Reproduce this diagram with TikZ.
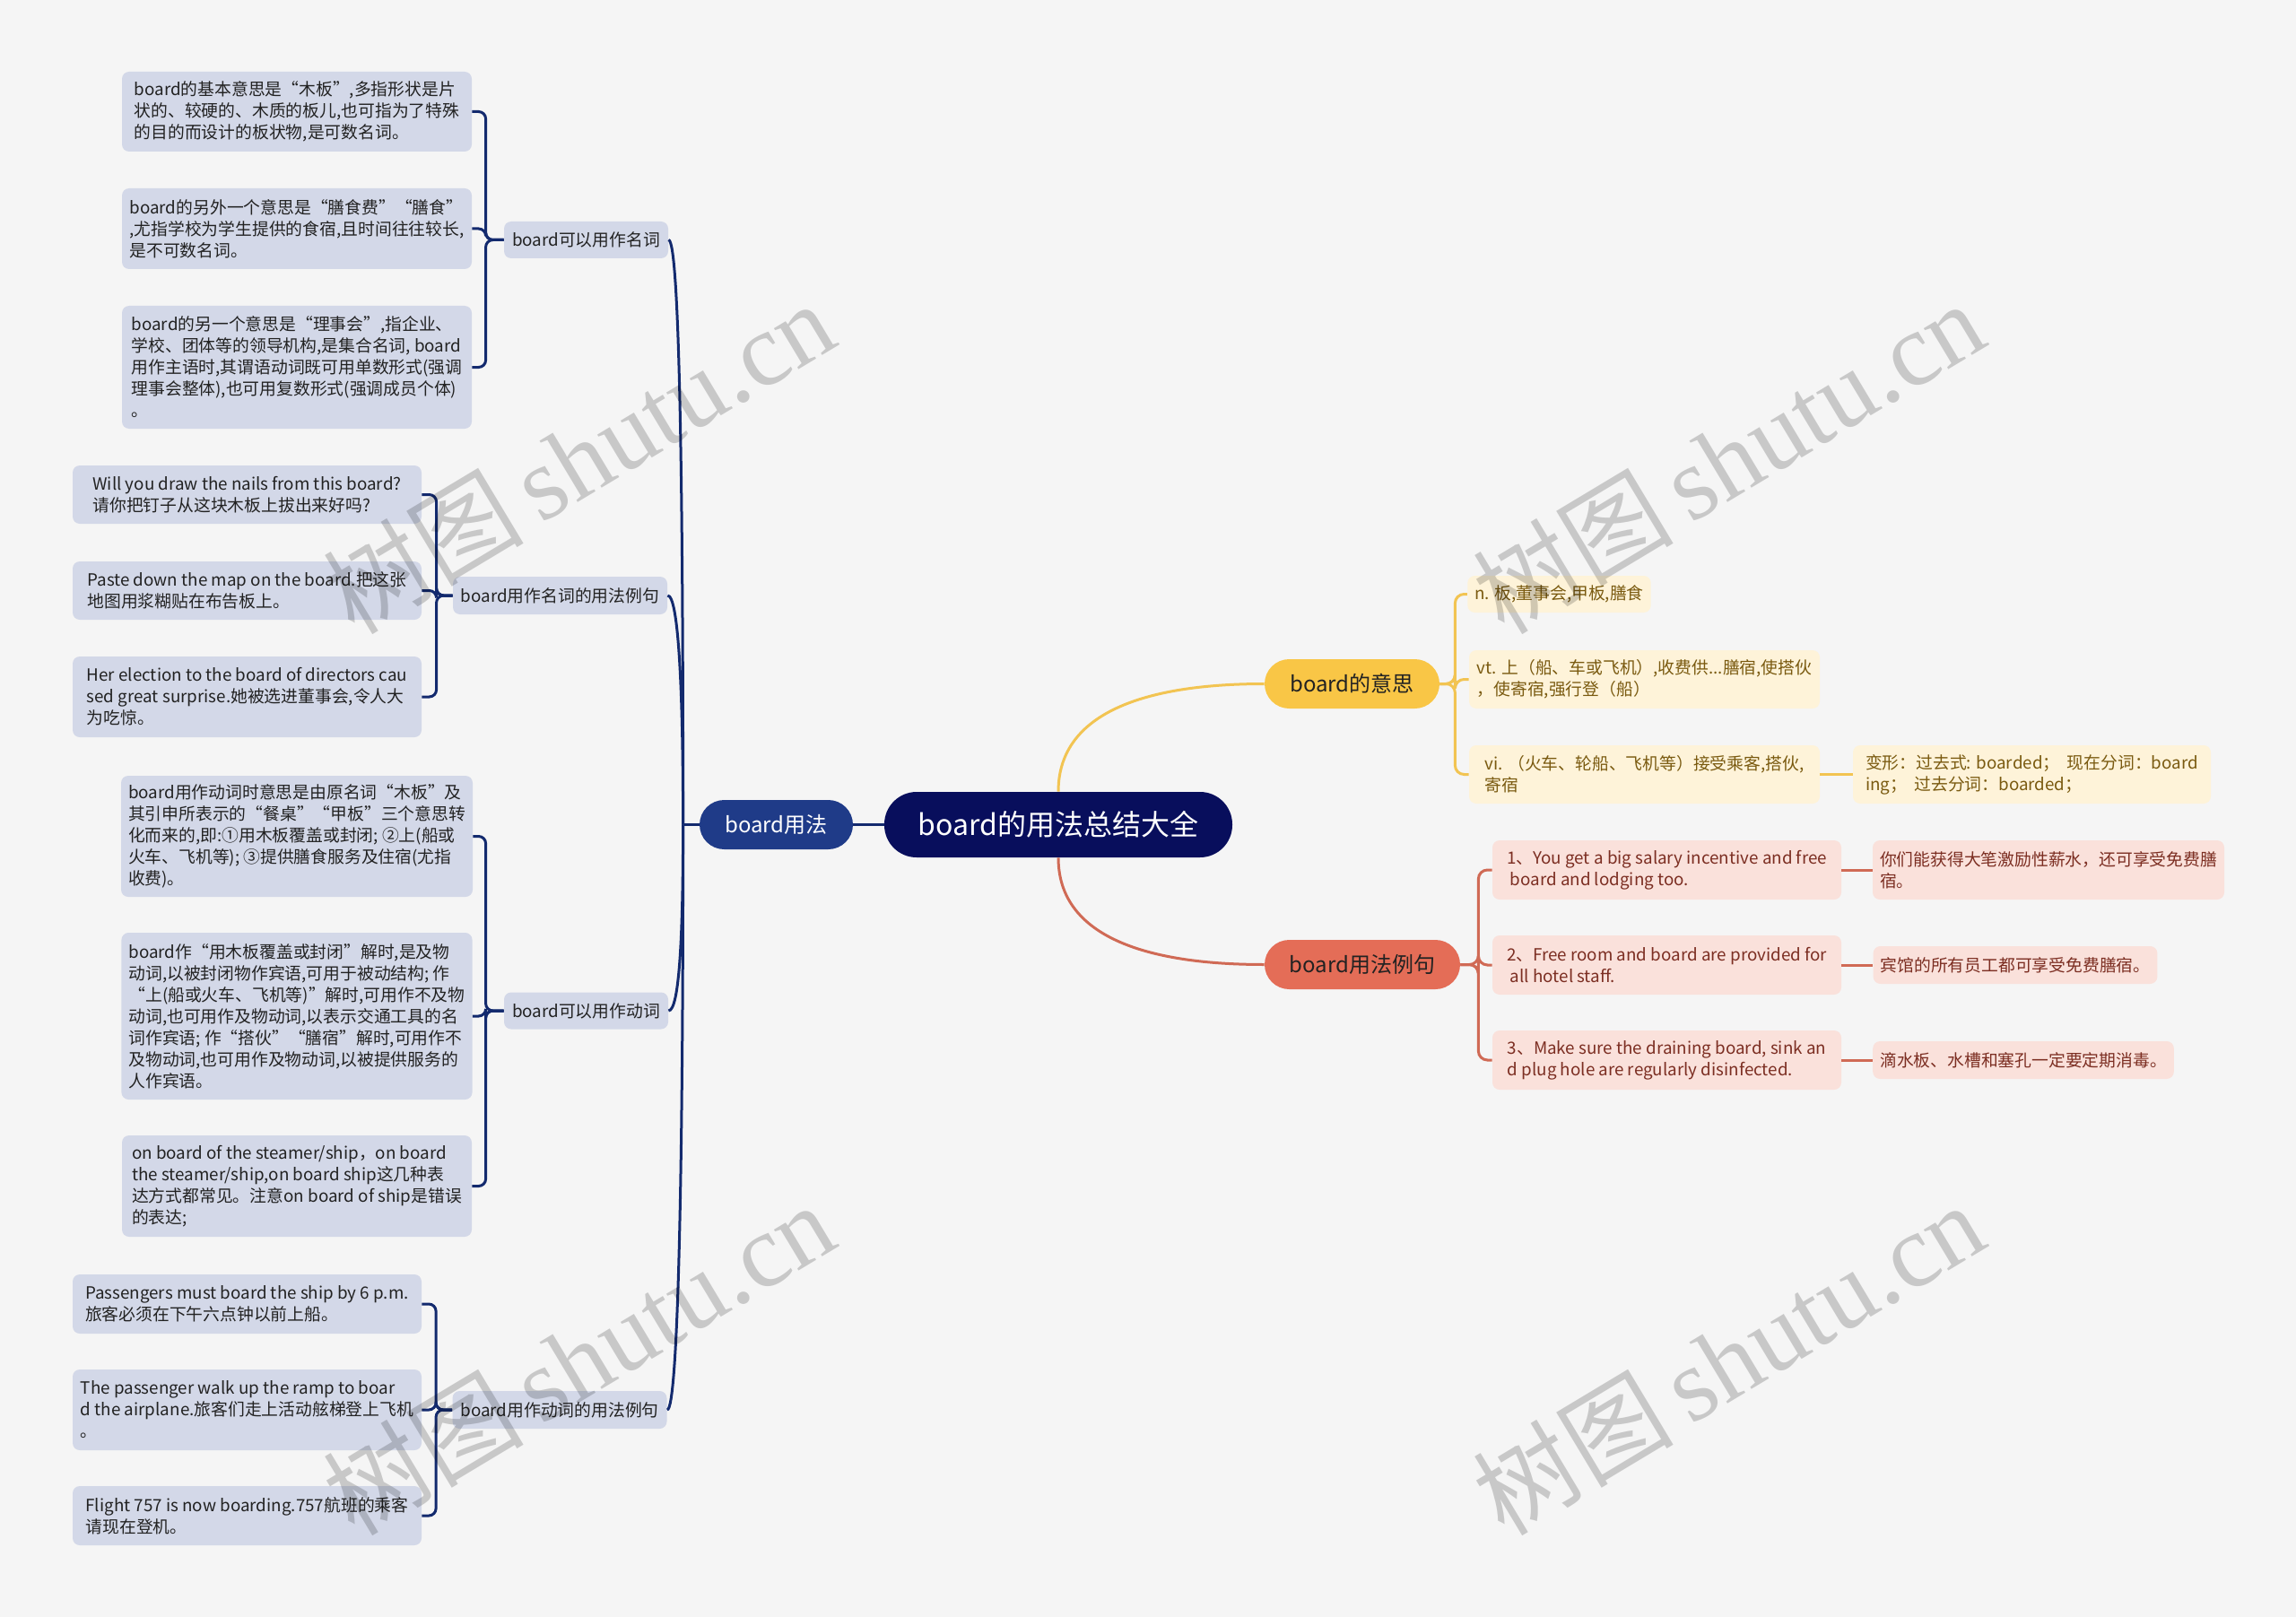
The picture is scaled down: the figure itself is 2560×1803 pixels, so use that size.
\documentclass[tikz,border=0pt]{standalone}
\usepackage{fontspec}
\setmainfont{Noto Sans CJK SC}
\newfontfamily\wmlatin{Liberation Serif}
\definecolor{bgcol}{HTML}{F5F5F5}
\definecolor{rootcol}{HTML}{080E5C}
\definecolor{usecol}{HTML}{1F3B88}
\definecolor{navyline}{HTML}{132A6E}
\definecolor{leafblue}{HTML}{D3D8E8}
\definecolor{meancol}{HTML}{F9C646}
\definecolor{meanline}{HTML}{F2C452}
\definecolor{meanleaf}{HTML}{FEF3D9}
\definecolor{meantext}{HTML}{7A5A10}
\definecolor{excol}{HTML}{E46D57}
\definecolor{exline}{HTML}{D06A55}
\definecolor{exleaf}{HTML}{FAE1DB}
\definecolor{extext}{HTML}{7C2E22}
\definecolor{inktext}{HTML}{222222}
\usetikzlibrary{calc}

\begin{document}
\begin{tikzpicture}[x=0.5pt,y=-0.5pt,
wh/.style 2 args={minimum width=#1pt,minimum height=#2pt},
box/.style={rounded corners=4pt,align=left,inner xsep=4pt,inner ysep=3pt,
  font=\fontsize{9.4pt}{12pt}\selectfont,text=inktext},
leaf/.style={box,fill=leafblue},
mleaf/.style={box,fill=meanleaf,text=meantext},
eleaf/.style={box,fill=exleaf,text=extext},
pill/.style={rounded corners=13.75pt,minimum height=27.5pt,inner sep=0pt,
  font=\fontsize{12pt}{14pt}\selectfont},
navy/.style={draw=navyline,line width=1.5pt},
myel/.style={draw=meanline,line width=1.5pt},
mred/.style={draw=exline,line width=1.5pt},
wm/.style={text=black,opacity=0.18,rotate=31,inner sep=0pt}]
\fill[bgcol](0,0)rectangle(2560,1803);
\useasboundingbox(0,0)rectangle(2560,1803);

\node[fill=rootcol,text=white,rounded corners=18pt,inner sep=0pt,wh={194}{36.5},
  font=\fontsize{16pt}{18pt}\selectfont](root)at(1180,919.5){board的用法总结大全};
\node[pill,fill=usecol,text=white,minimum width=85.5pt](use)at(865.5,919.5){board用法};
\node[pill,fill=meancol,text=inktext,minimum width=97.5pt](mean)at(1507.5,762.5){board的意思};
\node[pill,fill=excol,text=inktext,minimum width=109pt](ex)at(1519,1075.5){board用法例句};

\node[leaf,wh={91.5}{20.5}](n1)at(653.5,267.5){board可以用作名词};
\node[leaf,wh={119.5}{21}](n2)at(624.5,664){board用作名词的用法例句};
\node[leaf,wh={91.5}{20.5}](n3)at(653.5,1127){board可以用作动词};
\node[leaf,wh={119.5}{21}](n4)at(624,1572){board用作动词的用法例句};

\node[leaf,wh={195}{44.5}](a1)at(331,124.5){board的基本意思是“木板”,多指形状是片\\状的、较硬的、木质的板儿,也可指为了特殊\\的目的而设计的板状物,是可数名词。};
\node[leaf,wh={195}{45}](a2)at(331,255){board的另外一个意思是“膳食费”“膳食”\\,尤指学校为学生提供的食宿,且时间往往较长,\\是不可数名词。};
\node[leaf,wh={195}{68.5}](a3)at(331,409.5){board的另一个意思是“理事会”,指企业、\\学校、团体等的领导机构,是集合名词, board\\用作主语时,其谓语动词既可用单数形式(强调\\理事会整体),也可用复数形式(强调成员个体)\\。};

\node[leaf,wh={194.5}{32.5}](b1)at(275.5,551.5){Will you draw the nails from this board?\\请你把钉子从这块木板上拔出来好吗?};
\node[leaf,wh={194.5}{32.5}](b2)at(275.5,658.5){Paste down the map on the board.把这张\\地图用浆糊贴在布告板上。};
\node[leaf,wh={194.5}{45}](b3)at(275.5,777){Her election to the board of directors cau\\sed great surprise.她被选进董事会,令人大\\为吃惊。};

\node[leaf,wh={195}{67.5}](c1)at(331,932.5){board用作动词时意思是由原名词“木板”及\\其引申所表示的“餐桌”“甲板”三个意思转\\化而来的,即:①用木板覆盖或封闭; ②上(船或\\火车、飞机等); ③提供膳食服务及住宿(尤指\\收费)。};
\node[leaf,wh={195}{93}](c2)at(331,1133){board作“用木板覆盖或封闭”解时,是及物\\动词,以被封闭物作宾语,可用于被动结构; 作\\“上(船或火车、飞机等)”解时,可用作不及物\\动词,也可用作及物动词,以表示交通工具的名\\词作宾语; 作“搭伙”“膳宿”解时,可用作不\\及物动词,也可用作及物动词,以被提供服务的\\人作宾语。};
\node[leaf,wh={195}{56.5}](c3)at(331,1322.5){on board of the steamer/ship，on board\\the steamer/ship,on board ship这几种表\\达方式都常见。注意on board of ship是错误\\的表达;};

\node[leaf,wh={194.5}{33}](d1)at(275.5,1454){Passengers must board the ship by 6 p.m.\\旅客必须在下午六点钟以前上船。};
\node[leaf,wh={194.5}{45}](d2)at(275.5,1572){The passenger walk up the ramp to boar\\d the airplane.旅客们走上活动舷梯登上飞机\\。};
\node[leaf,wh={194.5}{33}](d3)at(275.5,1690){Flight 757 is now boarding.757航班的乘客\\请现在登机。};

\node[mleaf,wh={100.5}{20.5}](m1)at(1738.5,662.5){n. 板,董事会,甲板,膳食};
\node[mleaf,wh={195.5}{32.5}](m2)at(1833.5,757.5){vt. 上（船、车或飞机）,收费供...膳宿,使搭伙\\，使寄宿,强行登（船）};
\node[mleaf,wh={195.5}{32.5}](m3)at(1833.5,863.5){vi. （火车、轮船、飞机等）接受乘客,搭伙,\\寄宿};
\node[mleaf,wh={199.5}{32.5}](m4)at(2265.5,863.5){变形：过去式: boarded；\ \ 现在分词：board\\ing；\ \ 过去分词：boarded；};

\node[eleaf,wh={194.5}{33}](e1)at(1858.5,970){1、You get a big salary incentive and free\\\hspace*{0.2em}board and lodging too.};
\node[eleaf,wh={194.5}{33}](e2)at(1858.5,1076){2、Free room and board are provided for\\\hspace*{0.2em}all hotel staff.};
\node[eleaf,wh={194.5}{33}](e3)at(1858.5,1182){3、Make sure the draining board, sink an\\d plug hole are regularly disinfected.};
\node[eleaf,wh={195}{33}](s1)at(2284,970){你们能获得大笔激励性薪水，还可享受免费膳\\宿。};
\node[eleaf,wh={158}{21}](s2)at(2247,1076){宾馆的所有员工都可享受免费膳宿。};
\node[eleaf,wh={167}{21}](s3)at(2256,1182){滴水板、水槽和塞孔一定要定期消毒。};

\draw[navy](root.west)--(use.east);
\draw[navy](use.west)--++(-18,0)coordinate(lt);
\draw[navy](lt)..controls +(0,-390) and +(12,0)..(n1.east);
\draw[navy](lt)..controls +(0,-153) and +(12,0)..(n2.east);
\draw[navy](lt)..controls +(0,125) and +(12,0)..(n3.east);
\draw[navy](lt)..controls +(0,392) and +(12,0)..(n4.east);
\foreach \c in {a1,a2,a3}\draw[navy,rounded corners=4pt](n1.west)--++(-20,0)|-(\c.east);
\foreach \c in {b1,b2,b3}\draw[navy,rounded corners=4pt](n2.west)--++(-18,0)|-(\c.east);
\foreach \c in {c1,c2,c3}\draw[navy,rounded corners=4pt](n3.west)--++(-20,0)|-(\c.east);
\foreach \c in {d1,d2,d3}\draw[navy,rounded corners=4pt](n4.west)--++(-18,0)|-(\c.east);

\draw[myel](root.north)to[out=90,in=180](mean.west);
\draw[mred](root.south)to[out=-90,in=180](ex.west);
\foreach \c in {m1,m2,m3}\draw[myel,rounded corners=5pt](mean.east)--++(17,0)|-(\c.west);
\draw[myel](m3.east)--(m4.west);
\foreach \c in {e1,e2,e3}\draw[mred,rounded corners=5pt](ex.east)--++(20,0)|-(\c.west);
\draw[mred](e1.east)--(s1.west);
\draw[mred](e2.east)--(s2.west);
\draw[mred](e3.east)--(s3.west);

\node[wm](wm1)at(645,510){\fontsize{56pt}{56pt}\selectfont 树图\,{\wmlatin\fontsize{58pt}{58pt}\selectfont shutu.cn}};
\node[wm](wm2)at(1927,510){\fontsize{56pt}{56pt}\selectfont 树图\,{\wmlatin\fontsize{58pt}{58pt}\selectfont shutu.cn}};
\node[wm](wm3)at(645,1515){\fontsize{56pt}{56pt}\selectfont 树图\,{\wmlatin\fontsize{58pt}{58pt}\selectfont shutu.cn}};
\node[wm](wm4)at(1927,1515){\fontsize{56pt}{56pt}\selectfont 树图\,{\wmlatin\fontsize{58pt}{58pt}\selectfont shutu.cn}};
\end{tikzpicture}
\end{document}
